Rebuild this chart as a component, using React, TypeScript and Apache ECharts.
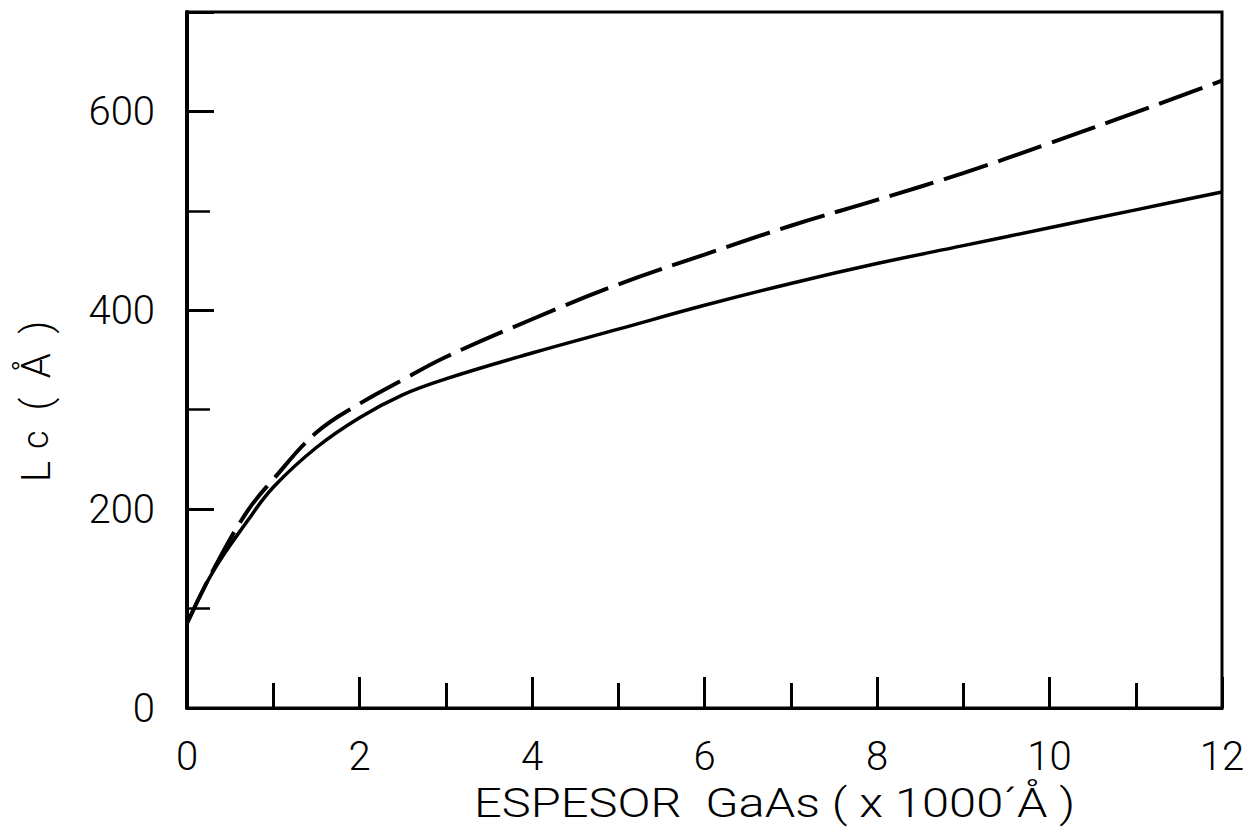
import React, { useEffect, useRef } from "react";
import * as echarts from "echarts";

const xValues = [0, 0.3, 0.7, 1.0, 1.5, 2.0, 2.5, 3.0, 4.0, 5.0, 6.0, 7.0, 8.0, 9.0, 10.0, 11.0, 12.0];
const solidValues = [85, 137, 188, 222, 262, 292, 315, 331, 357, 381, 405, 427, 447, 465, 483, 501, 519];
const dashedValues = [85, 138, 198, 230, 277, 306, 330, 353, 391, 426, 456, 485, 511, 538, 568, 599, 631];
const xTickLabels = ["0", "2", "4", "6", "8", "10", "12"];
const yTickLabels = ["0", "200", "400", "600"];

const FONT = "Roboto, 'Liberation Sans', sans-serif";

export default function App() {
  const ref = useRef<HTMLDivElement>(null);
  useEffect(() => {
    if (!ref.current) return;
    const chart = echarts.init(ref.current, undefined, { renderer: "svg" });
    const solid = xValues.map((x, i) => [x, solidValues[i]]);
    const dashed = xValues.map((x, i) => [x, dashedValues[i]]);
    chart.setOption({
      animation: false,
      backgroundColor: "#ffffff",
      grid: {
        left: 187,
        right: 26,
        top: 12,
        bottom: 124,
        show: true,
        borderColor: "#000",
        borderWidth: 3,
        containLabel: false,
      },
      xAxis: {
        type: "value",
        min: 0,
        max: 12,
        interval: 2,
        axisLine: { show: true, onZero: false, lineStyle: { color: "#000", width: 3 } },
        axisTick: { show: true, inside: true, length: 31, lineStyle: { color: "#000", width: 3 } },
        minorTick: { show: true, splitNumber: 2, length: 25, lineStyle: { color: "#000", width: 3 } },
        splitLine: { show: false },
        axisLabel: {
          margin: 28,
          color: "#000",
          fontFamily: FONT,
          fontWeight: 300,
          fontSize: 40,
          lineHeight: 40,
          formatter: (v: number) => (xTickLabels.includes(String(v)) ? String(v) : ""),
        },
      },
      yAxis: {
        type: "value",
        min: 0,
        max: 700,
        interval: 200,
        axisLine: { show: true, onZero: false, lineStyle: { color: "#000", width: 4 } },
        axisTick: { show: true, inside: true, length: 27, lineStyle: { color: "#000", width: 3 } },
        minorTick: { show: true, splitNumber: 2, length: 23, lineStyle: { color: "#000", width: 2.5 } },
        splitLine: { show: false },
        axisLabel: {
          margin: 32,
          color: "#000",
          fontFamily: FONT,
          fontWeight: 300,
          fontSize: 40,
          formatter: (v: number) => (yTickLabels.includes(String(v)) ? String(v) : ""),
        },
      },
      graphic: [
        {
          type: "text",
          x: 474,
          y: 784,
          scaleX: 1.22,
          style: {
            text: "ESPESOR  GaAs ( x 1000´Å )",
            fontFamily: FONT,
            fontWeight: 300,
            fontSize: 40,
            fill: "#000",
          },
        },
        {
          type: "text",
          x: 16,
          y: 482,
          rotation: Math.PI / 2,
          style: {
            text: "{a|L}{s|c}{a| (  Å  )}",
            fontFamily: FONT,
            fill: "#000",
            rich: {
              a: { fontSize: 40, fontWeight: 300, fontFamily: FONT, fill: "#000" },
              s: { fontSize: 36, fontWeight: 300, fontFamily: FONT, fill: "#000", padding: [0, 10, 0, 12] },
            },
          },
        },
      ],
      series: [
        {
          type: "line",
          data: solid,
          smooth: 0.4,
          showSymbol: false,
          symbol: "none",
          lineStyle: { color: "#000", width: 3.5 },
        },
        {
          type: "line",
          data: dashed,
          smooth: 0.4,
          showSymbol: false,
          symbol: "none",
          lineStyle: { color: "#000", width: 4, type: [46, 11], cap: "butt" },
        },
      ],
    });
    return () => chart.dispose();
  }, []);
  return (
    <div
      ref={ref}
      style={{ position: "fixed", left: 0, top: 0, width: 1248, height: 832 }}
    />
  );
}
